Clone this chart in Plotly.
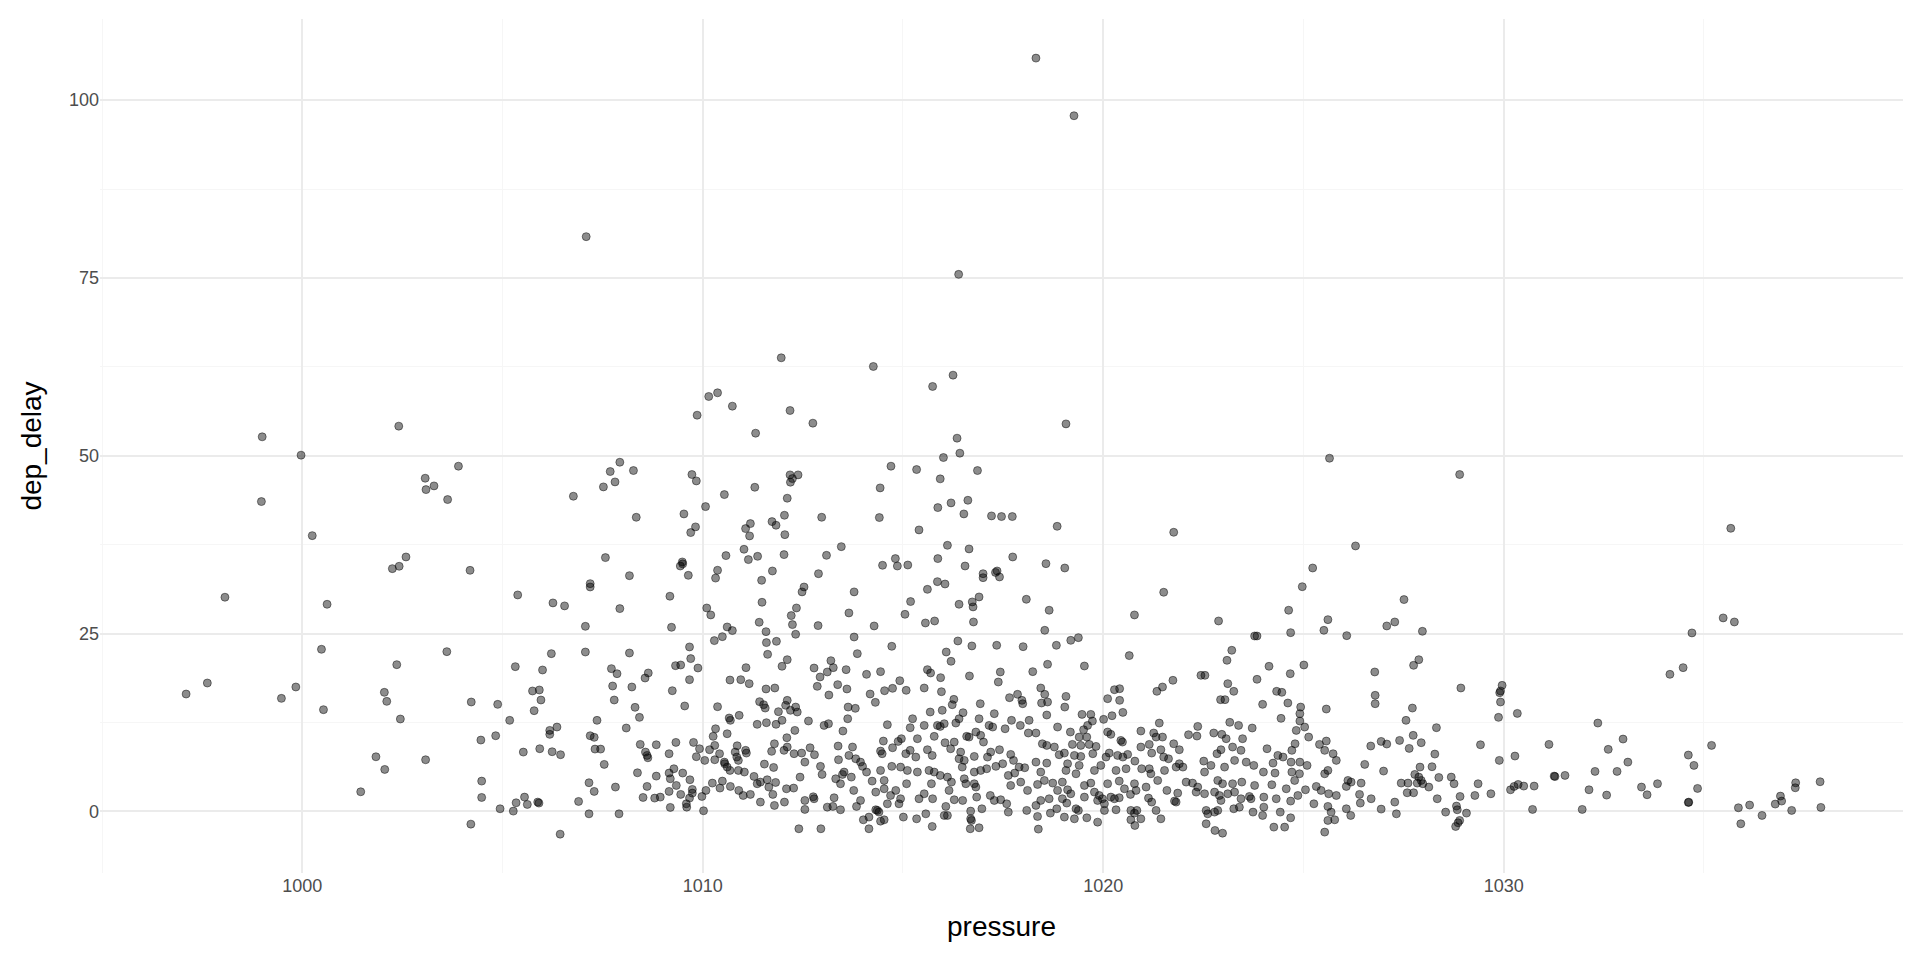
"""Scatter of departure delay against pressure (ggplot minimal look)."""

import plotly.graph_objects as go

# (pressure, dep_delay), grouped by region of the plot
outliers = [(1018.32, 105.9), (1019.27, 97.8), (1007.09, 80.8), (1016.39, 75.5)]

upper_west = [
    (999.00, 52.66), (999.97, 50.08), (1002.41, 54.16), (998.98, 43.56), (1000.25, 38.77),
    (1003.90, 48.53), (1003.07, 46.84), (1003.29, 45.76), (1003.09, 45.24), (1003.63, 43.84),
    (1006.77, 44.31), (1007.93, 49.09), (1007.69, 47.78), (1008.27, 47.92), (1007.52, 45.62),
    (1007.81, 46.32), (1008.34, 41.35), (1010.15, 58.33), (1010.37, 58.85), (1009.86, 55.70),
    (1009.73, 47.36), (1009.84, 46.46), (1010.07, 42.85), (1009.53, 41.82), (1009.82, 40.0),
    (1009.70, 39.2), (1002.59, 35.77), (1002.42, 34.46), (1002.25, 34.13), (1004.19, 33.89),
    (1007.57, 35.68), (1008.17, 33.14), (1007.19, 32.02), (1007.19, 31.55), (1009.49, 35.07),
    (1009.44, 34.50), (1009.5, 34.8), (1009.64, 33.19), (1010.37, 33.9), (1010.32, 32.8),
]

upper_mid = [
    (1011.96, 63.77), (1014.26, 62.55), (1016.25, 61.33), (1015.74, 59.74), (1010.74, 56.97),
    (1012.18, 56.36), (1012.75, 54.58), (1011.32, 53.17), (1019.07, 54.48), (1016.35, 52.47),
    (1016.42, 50.36), (1016.01, 49.75), (1014.70, 48.53), (1015.34, 48.06), (1016.86, 47.92),
    (1015.93, 46.75), (1012.18, 47.31), (1012.38, 47.31), (1012.24, 46.79), (1012.19, 46.28),
    (1011.30, 45.57), (1010.54, 44.54), (1012.11, 44.03), (1014.43, 45.48), (1014.41, 41.31),
    (1012.97, 41.35), (1012.04, 41.63), (1011.73, 40.74), (1011.83, 40.23), (1011.19, 40.46),
    (1011.07, 39.76), (1011.17, 38.73), (1012.05, 38.91), (1015.87, 42.71), (1016.20, 43.37),
    (1016.62, 43.74), (1016.52, 41.82), (1017.21, 41.54), (1017.46, 41.45), (1017.73, 41.45),
    (1018.85, 40.08), (1015.40, 39.57), (1021.76, 39.24), (1016.11, 37.41), (1016.65, 36.90),
    (1017.74, 35.77), (1015.87, 35.54), (1014.81, 35.54), (1014.49, 34.60), (1014.86, 34.50),
    (1015.12, 34.64), (1016.55, 34.50), (1013.46, 37.22), (1013.09, 36.00), (1012.03, 36.10),
    (1011.37, 35.86), (1011.03, 36.85), (1011.14, 35.40), (1010.58, 35.96), (1011.74, 33.80),
    (1011.47, 32.49), (1012.89, 33.42), (1012.53, 31.55), (1017.00, 33.42), (1017.00, 32.86),
    (1017.35, 33.80), (1017.41, 32.96), (1017.31, 33.6), (1018.57, 34.83), (1019.04, 34.22),
    (1015.86, 32.30), (1016.05, 31.97), (1015.61, 31.22), (1025.23, 34.22), (1024.97, 31.59),
    (1025.65, 49.65), (1028.90, 47.36), (1026.30, 37.32), (1035.67, 39.80),
]

low_997_1003 = [
    (998.07, 30.11), (1000.62, 29.12), (1000.48, 22.79), (1002.36, 20.63), (997.63, 18.05),
    (997.10, 16.50), (999.84, 17.49), (999.48, 15.89), (1000.53, 14.30), (1002.05, 16.74),
    (1002.11, 15.47), (1002.45, 12.99), (1001.84, 7.68), (1002.06, 5.90), (1001.46, 2.76),
]

low_1003_1008 = [
    (1005.38, 30.43), (1006.26, 29.31), (1006.55, 28.89), (1007.93, 28.51), (1007.07, 26.02),
    (1003.61, 22.46), (1006.22, 22.18), (1007.07, 22.41), (1005.32, 20.35), (1006.00, 19.88),
    (1007.72, 20.07), (1007.86, 19.36), (1007.75, 17.63), (1005.75, 16.93), (1005.92, 17.07),
    (1005.96, 15.66), (1005.79, 14.16), (1007.79, 15.66), (1004.22, 15.38), (1004.88, 15.05),
    (1005.18, 12.80), (1007.36, 12.80), (1006.18, 11.39), (1006.36, 11.86), (1006.18, 10.83),
    (1007.19, 10.64), (1007.29, 10.41), (1004.83, 10.64), (1004.46, 10.03), (1003.08, 7.26),
    (1005.52, 8.34), (1005.93, 8.81), (1006.24, 8.39), (1006.45, 7.97), (1007.31, 8.76),
    (1007.45, 8.76), (1007.54, 6.61), (1004.48, 4.26), (1004.48, 1.96), (1004.94, 0.37),
    (1005.27, 0.04), (1005.34, 1.21), (1005.55, 2.01), (1005.62, 0.98), (1005.88, 1.31),
    (1005.91, 1.17), (1006.90, 1.40), (1007.16, 4.03), (1007.29, 2.81), (1007.16, -0.34),
    (1007.82, 3.42), (1007.91, -0.34), (1004.21, -1.79), (1006.44, -3.20),
]

low_1008_1012 = [
    (1009.18, 30.25), (1009.22, 25.88), (1010.10, 28.60), (1010.20, 27.62), (1011.48, 29.40),
    (1011.41, 26.59), (1011.58, 25.27), (1010.61, 25.93), (1010.74, 25.42), (1010.49, 24.57),
    (1010.29, 24.01), (1011.59, 23.73), (1011.84, 23.91), (1011.62, 22.08), (1008.17, 22.27),
    (1009.67, 23.12), (1009.70, 21.48), (1009.32, 20.49), (1009.45, 20.58), (1009.88, 20.16),
    (1008.64, 19.46), (1008.56, 18.75), (1008.23, 17.49), (1009.67, 18.52), (1009.24, 16.97),
    (1011.08, 20.21), (1010.68, 18.47), (1010.95, 18.52), (1011.16, 17.96), (1011.58, 17.21),
    (1011.80, 17.35), (1009.55, 14.82), (1010.37, 14.72), (1008.31, 14.63), (1008.42, 13.22),
    (1008.09, 11.72), (1010.66, 13.13), (1010.69, 12.80), (1010.91, 13.50), (1011.42, 15.43),
    (1011.52, 15.00), (1011.56, 14.53), (1011.89, 14.02), (1011.36, 12.24), (1011.59, 12.47),
    (1011.83, 12.24), (1010.32, 11.62), (1010.26, 10.55), (1010.61, 10.92), (1008.44, 9.42),
    (1008.57, 8.34), (1008.61, 7.87), (1008.63, 7.54), (1008.84, 9.37), (1009.33, 9.70),
    (1009.16, 8.11), (1009.77, 9.70), (1009.92, 8.81), (1010.17, 8.67), (1010.30, 9.28),
    (1010.42, 8.11), (1009.84, 7.69), (1010.05, 7.17), (1010.30, 7.26), (1010.54, 6.93),
    (1010.86, 9.23), (1010.81, 8.34), (1010.85, 7.64), (1010.89, 7.17), (1011.07, 8.58),
    (1011.09, 8.20), (1011.79, 9.51), (1011.72, 8.44), (1011.54, 6.65), (1011.77, 6.18),
    (1008.37, 5.43), (1008.61, 3.51), (1008.84, 4.96), (1009.16, 5.39), (1009.19, 4.59),
    (1009.28, 6.00), (1009.50, 5.39), (1009.68, 4.45), (1009.34, 3.65), (1009.16, 2.81),
    (1008.51, 1.96), (1008.80, 1.87), (1008.94, 2.01), (1009.45, 2.39), (1009.74, 3.09),
    (1009.74, 2.57), (1009.67, 1.87), (1009.59, 1.07), (1009.60, 0.60), (1009.19, 0.56),
    (1010.02, 0.09), (1009.98, 2.10), (1010.08, 2.95), (1010.24, 3.98), (1010.49, 4.26),
    (1010.43, 3.28), (1010.69, 3.51), (1010.55, 6.70), (1010.61, 6.23), (1010.68, 5.76),
    (1010.89, 5.76), (1011.04, 5.53), (1010.90, 2.95), (1011.01, 2.24), (1011.19, 2.39),
    (1011.28, 4.92), (1011.36, 3.89), (1011.44, 4.12), (1011.61, 4.45), (1011.65, 3.42),
    (1011.82, 4.07), (1011.44, 1.31), (1011.75, 2.39), (1011.79, 0.84),
]

low_1012_1015 = [
    (1012.48, 30.86), (1013.78, 30.86), (1012.34, 28.60), (1012.21, 27.53), (1012.24, 26.26),
    (1012.32, 24.90), (1012.88, 26.12), (1013.65, 27.90), (1013.78, 24.52), (1013.86, 22.18),
    (1014.28, 26.07), (1014.72, 23.21), (1015.19, 29.50), (1015.05, 27.71), (1012.11, 21.33),
    (1011.98, 20.40), (1012.78, 20.16), (1013.20, 21.19), (1013.26, 20.21), (1013.11, 19.60),
    (1012.93, 18.90), (1012.86, 17.58), (1013.58, 19.93), (1013.37, 17.82), (1013.60, 17.21),
    (1013.15, 16.36), (1014.09, 19.27), (1014.44, 19.65), (1014.92, 18.38), (1014.74, 17.30),
    (1014.54, 16.97), (1015.08, 17.02), (1014.18, 16.50), (1014.31, 15.33), (1013.63, 14.67),
    (1013.81, 14.49), (1012.11, 15.61), (1012.07, 14.91), (1012.32, 14.67), (1012.36, 13.97),
    (1012.19, 14.21), (1011.98, 12.80), (1012.64, 12.71), (1013.03, 12.09), (1013.14, 12.33),
    (1013.50, 11.30), (1013.62, 13.03), (1012.30, 11.39), (1012.10, 10.36), (1012.03, 8.58),
    (1012.11, 9.05), (1012.28, 8.11), (1012.47, 8.20), (1012.55, 6.93), (1012.68, 8.95),
    (1012.79, 7.97), (1013.38, 9.19), (1013.39, 7.26), (1013.74, 9.05), (1013.65, 7.87),
    (1013.82, 7.40), (1013.94, 6.93), (1013.99, 6.33), (1014.09, 5.53), (1013.53, 5.53),
    (1013.49, 5.20), (1012.94, 6.33), (1012.98, 5.20), (1012.43, 4.82), (1012.09, 3.18),
    (1012.27, 3.28), (1012.04, 1.31), (1012.55, 1.54), (1012.55, 0.28), (1012.76, 2.06),
    (1012.78, 1.78), (1013.11, 0.60), (1013.25, 0.70), (1013.28, 1.92), (1013.44, 0.23),
    (1013.32, 4.59), (1013.44, 3.89), (1013.71, 4.82), (1013.77, 2.95), (1013.94, 1.54),
    (1013.84, 0.70), (1014.23, 4.26), (1014.32, 2.71), (1014.53, 4.35), (1014.53, 3.18),
    (1014.44, 5.76), (1014.48, 8.11), (1014.44, 8.48), (1014.51, 9.89), (1014.61, 12.19),
    (1014.74, 8.95), (1014.88, 9.84), (1014.96, 10.22), (1014.72, 6.33), (1014.94, 6.23),
    (1015.11, 5.76), (1015.07, 8.11), (1015.18, 8.58), (1015.24, 13.03), (1015.18, 11.77),
    (1015.36, 10.22), (1015.36, 5.53), (1015.32, 7.64), (1015.09, 3.89), (1014.82, 2.95),
    (1014.94, 1.78), (1014.90, 1.07), (1014.69, 2.24), (1014.61, 1.07), (1014.36, 0.14),
    (1014.40, -0.10), (1014.32, 0.23), (1014.53, -1.18), (1014.44, -1.37), (1014.15, -0.80),
    (1014.01, -1.18), (1014.15, -2.44), (1015.01, -0.80), (1015.34, -1.04), (1015.40, 1.78),
    (1012.40, -2.44), (1012.95, -2.44),
]

low_1015_1019 = [
    (1016.40, 29.12), (1016.73, 29.45), (1016.75, 28.75), (1016.90, 30.15), (1015.56, 26.49),
    (1015.79, 26.77), (1016.76, 26.63), (1018.08, 29.82), (1018.65, 28.28), (1018.54, 25.46),
    (1016.37, 23.96), (1016.72, 23.26), (1017.34, 23.35), (1018.00, 23.16), (1018.83, 23.35),
    (1016.08, 22.41), (1016.20, 21.10), (1015.61, 19.93), (1015.69, 19.46), (1015.94, 18.80),
    (1016.66, 19.04), (1017.43, 19.60), (1017.38, 18.19), (1018.24, 19.65), (1018.61, 20.68),
    (1015.53, 17.35), (1015.96, 16.83), (1016.27, 15.75), (1016.23, 15.00), (1015.98, 14.21),
    (1015.68, 13.97), (1016.93, 15.14), (1017.66, 15.99), (1017.86, 16.46), (1017.97, 15.61),
    (1017.99, 15.14), (1018.44, 17.35), (1018.54, 16.46), (1018.46, 15.24), (1018.61, 15.38),
    (1018.59, 13.55), (1016.50, 13.88), (1016.40, 13.03), (1016.32, 12.42), (1016.03, 12.33),
    (1015.86, 12.09), (1015.93, 11.95), (1015.53, 12.09), (1015.78, 10.55), (1016.90, 13.03),
    (1017.28, 13.74), (1017.15, 12.09), (1017.24, 11.86), (1017.55, 11.62), (1017.71, 12.80),
    (1017.93, 12.09), (1018.15, 12.80), (1018.13, 11.02), (1018.32, 11.02), (1016.59, 10.55),
    (1016.65, 10.45), (1016.82, 11.16), (1016.94, 10.69), (1017.01, 9.75), (1016.28, 9.75),
    (1016.05, 9.66), (1016.19, 8.81), (1015.61, 8.67), (1015.73, 7.87), (1016.44, 8.34),
    (1016.40, 7.40), (1016.53, 7.17), (1016.78, 7.73), (1017.11, 7.64), (1017.19, 8.34),
    (1017.41, 8.67), (1017.69, 8.01), (1017.76, 7.17), (1017.49, 6.70), (1017.32, 6.33),
    (1017.09, 6.00), (1016.94, 5.76), (1016.78, 5.53), (1016.48, 6.23), (1015.78, 5.53),
    (1015.65, 5.76), (1015.93, 5.06), (1016.11, 4.82), (1016.21, 4.12), (1016.53, 4.59),
    (1016.57, 3.89), (1016.78, 3.89), (1016.82, 3.42), (1016.15, 2.95), (1015.71, 3.89),
    (1015.53, 2.48), (1015.74, 1.78), (1016.28, 1.64), (1016.49, 1.54), (1016.84, 2.01),
    (1017.18, 2.24), (1017.28, 1.54), (1017.44, 1.64), (1017.59, 1.07), (1017.63, -0.10),
    (1016.97, 0.37), (1016.69, 0.04), (1016.69, -1.04), (1016.71, -1.27), (1016.68, -2.44),
    (1016.90, -2.30), (1016.07, 0.70), (1016.03, -0.57), (1016.11, -0.57), (1015.57, -0.34),
    (1015.73, -2.12), (1017.63, 5.06), (1017.79, 5.39), (1017.90, 6.23), (1018.04, 6.14),
    (1017.94, 4.12), (1017.69, 3.65), (1018.11, 2.95), (1018.36, 3.79), (1018.32, 6.93),
    (1018.44, 5.53), (1018.59, 6.79), (1018.53, 4.35), (1018.74, 3.98), (1018.59, 9.28),
    (1018.48, 9.51), (1018.78, 9.05), (1018.86, 11.86), (1018.90, 7.97), (1018.44, 1.54),
    (1018.32, 0.84), (1018.09, 0.14), (1018.36, -0.71), (1018.68, -0.24), (1018.65, 1.78),
    (1018.84, 0.37), (1018.38, -2.49), (1018.86, 2.95),
]

low_1019_1022 = [
    (1021.51, 30.81), (1020.78, 27.62), (1019.19, 24.05), (1019.38, 24.43), (1020.65, 21.90),
    (1019.53, 20.44), (1020.11, 15.85), (1020.28, 17.11), (1020.41, 17.25), (1020.41, 15.61),
    (1021.34, 16.88), (1021.48, 17.49), (1021.74, 18.43), (1022.44, 19.13), (1019.07, 16.17),
    (1019.04, 14.67), (1020.49, 13.92), (1020.22, 13.45), (1020.01, 12.94), (1019.47, 13.64),
    (1019.69, 13.64), (1019.73, 12.70), (1019.61, 12.09), (1019.51, 11.48), (1019.18, 11.16),
    (1019.40, 10.45), (1019.59, 10.45), (1020.11, 11.16), (1020.19, 10.83), (1020.44, 9.98),
    (1020.48, 9.75), (1020.94, 11.30), (1021.40, 12.42), (1021.26, 11.02), (1021.32, 10.45),
    (1021.48, 10.45), (1021.76, 9.51), (1021.90, 8.67), (1022.13, 10.78), (1022.36, 11.95),
    (1022.34, 10.59), (1019.23, 9.42), (1019.44, 9.28), (1019.65, 9.42), (1019.82, 9.14),
    (1019.74, 8.11), (1019.03, 8.20), (1019.28, 7.87), (1019.44, 7.73), (1019.11, 6.70),
    (1019.40, 6.47), (1019.07, 5.76), (1019.32, 5.29), (1019.78, 5.76), (1019.94, 6.47),
    (1020.15, 8.20), (1020.07, 7.64), (1020.36, 7.87), (1020.49, 7.64), (1020.61, 8.01),
    (1020.79, 7.07), (1020.32, 5.76), (1020.57, 6.00), (1020.94, 9.05), (1021.15, 9.42),
    (1021.21, 8.20), (1021.44, 8.67), (1021.51, 7.64), (1021.63, 7.40), (1020.96, 6.00),
    (1021.15, 6.00), (1021.19, 5.29), (1021.36, 4.35), (1021.53, 5.76), (1021.82, 6.23),
    (1021.90, 6.70), (1021.99, 6.23), (1022.07, 4.12), (1022.23, 3.98), (1022.36, 3.42),
    (1022.32, 2.71), (1018.98, 4.12), (1019.11, 3.04), (1019.19, 2.48), (1019.09, 1.17),
    (1018.98, 1.78), (1019.03, -0.80), (1019.28, -1.04), (1019.32, 0.37), (1019.38, 0.14),
    (1019.59, -0.90), (1019.86, -1.51), (1019.53, 2.01), (1019.53, 3.65), (1019.69, 3.98),
    (1019.78, 2.71), (1019.86, 1.54), (1019.90, 2.24), (1019.98, 1.78), (1020.03, 1.07),
    (1020.03, 0.14), (1020.19, 2.01), (1020.28, 1.78), (1020.40, 1.92), (1020.11, 3.89),
    (1020.40, 4.26), (1020.53, 3.18), (1020.32, 0.23), (1020.68, 2.39), (1020.78, 3.89),
    (1020.82, 2.95), (1020.69, 0.14), (1020.78, -0.24), (1020.84, 0.14), (1020.94, -1.04),
    (1020.79, -1.98), (1020.69, -1.18), (1021.07, 3.42), (1021.13, 1.87), (1021.21, 1.31),
    (1021.32, 0.14), (1021.44, -1.04), (1021.59, 2.95), (1021.78, 1.45), (1021.86, 2.57),
    (1021.82, 1.31),
]

low_1022_1026 = [
    (1024.63, 28.28), (1025.61, 26.96), (1025.51, 25.46), (1024.68, 25.13), (1022.88, 26.77),
    (1023.78, 24.66), (1023.84, 24.66), (1023.21, 22.65), (1023.09, 21.24), (1022.54, 19.13),
    (1024.14, 20.40), (1023.84, 18.57), (1024.67, 19.36), (1025.01, 20.58), (1023.11, 17.96),
    (1023.26, 16.88), (1022.93, 15.71), (1023.04, 15.71), (1024.33, 16.88), (1024.46, 16.74),
    (1023.98, 15.05), (1024.61, 15.24), (1024.93, 14.67), (1024.91, 13.74), (1024.44, 13.08),
    (1024.91, 12.70), (1025.57, 14.39), (1024.82, 11.39), (1025.03, 11.86), (1025.13, 10.45),
    (1023.16, 12.52), (1023.38, 12.09), (1023.72, 11.72), (1022.76, 11.02), (1022.96, 10.83),
    (1023.07, 10.22), (1023.48, 10.22), (1023.44, 8.58), (1023.23, 9.05), (1022.94, 8.67),
    (1022.84, 8.11), (1023.28, 7.17), (1023.57, 6.93), (1023.76, 6.47), (1023.03, 6.23),
    (1022.69, 6.47), (1022.51, 7.07), (1022.53, 5.53), (1024.09, 8.81), (1024.36, 7.87),
    (1024.49, 7.64), (1024.24, 6.79), (1024.00, 5.53), (1024.29, 5.39), (1024.71, 8.58),
    (1024.79, 9.51), (1024.69, 6.93), (1024.91, 6.93), (1025.09, 6.47), (1024.71, 5.53),
    (1024.90, 5.29), (1024.78, 4.35), (1025.40, 9.42), (1025.57, 9.89), (1025.53, 8.58),
    (1025.74, 8.11), (1025.82, 7.17), (1025.53, 5.29), (1025.61, 5.76), (1022.86, 4.35),
    (1022.98, 3.89), (1023.23, 3.89), (1023.46, 4.12), (1023.78, 3.65), (1024.21, 3.75),
    (1024.57, 3.18), (1025.05, 3.04), (1025.32, 3.51), (1025.44, 2.95), (1025.63, 2.48),
    (1025.82, 2.24), (1022.53, 2.48), (1022.78, 2.71), (1022.90, 2.24), (1022.94, 1.54),
    (1023.11, 2.48), (1023.28, 2.71), (1023.44, 1.78), (1023.65, 2.10), (1023.69, 1.78),
    (1024.01, 2.01), (1024.32, 1.78), (1024.68, 1.45), (1024.86, 2.24), (1025.26, 1.07),
    (1025.61, 0.70), (1022.57, 0.14), (1022.61, -0.34), (1022.78, -0.10), (1022.86, 0.14),
    (1023.26, 0.37), (1023.40, 0.60), (1024.01, 0.60), (1023.74, -0.10), (1023.98, -0.57),
    (1024.42, -0.10), (1024.68, -0.90), (1022.57, -1.74), (1022.79, -2.68), (1022.98, -3.06),
    (1024.26, -2.21), (1024.53, -2.21), (1025.69, -0.10), (1025.61, -1.27), (1025.53, -2.91),
    (1025.78, -1.18),
]

low_1026_1031 = [
    (1027.51, 29.78), (1027.08, 26.07), (1027.28, 26.63), (1027.97, 25.32), (1026.08, 24.71),
    (1027.88, 21.33), (1027.75, 20.54), (1026.78, 19.60), (1028.93, 17.35), (1026.79, 16.32),
    (1026.79, 15.14), (1027.72, 14.53), (1027.56, 12.80), (1029.96, 17.72), (1029.92, 16.93),
    (1029.90, 16.69), (1029.92, 15.38), (1029.87, 13.22), (1030.34, 13.78), (1028.32, 11.77),
    (1027.74, 10.69), (1027.40, 9.98), (1027.94, 9.66), (1027.64, 8.86), (1026.94, 9.84),
    (1027.08, 9.47), (1026.68, 9.19), (1028.28, 8.06), (1029.42, 9.37), (1030.28, 7.78),
    (1029.89, 7.17), (1026.53, 6.61), (1027.00, 5.67), (1027.91, 6.23), (1028.21, 6.28),
    (1027.78, 5.20), (1027.88, 4.82), (1027.94, 4.35), (1027.98, 3.89), (1028.13, 3.42),
    (1027.84, 3.98), (1027.61, 3.98), (1027.44, 3.98), (1027.59, 2.62), (1027.75, 2.62),
    (1028.38, 4.77), (1028.69, 4.82), (1028.76, 3.89), (1029.36, 3.89), (1029.28, 2.24),
    (1029.68, 2.48), (1028.91, 2.10), (1028.34, 1.78), (1026.11, 4.35), (1026.19, 4.12),
    (1026.44, 3.98), (1026.07, 3.51), (1026.40, 2.39), (1026.42, 1.17), (1026.69, 1.78),
    (1026.07, 0.37), (1026.18, -0.57), (1026.94, 0.32), (1027.28, 1.31), (1027.32, -0.34),
    (1028.55, -0.10), (1028.82, 0.75), (1028.84, 0.23), (1029.07, -0.24), (1028.90, -1.27),
    (1028.86, -1.60), (1028.80, -2.12), (1030.17, 3.04), (1030.26, 3.51), (1030.36, 3.79),
    (1030.50, 3.56), (1030.76, 3.56), (1030.72, 0.28),
]

low_east = [
    (1035.48, 27.20), (1035.76, 26.63), (1034.70, 25.09), (1034.48, 20.21), (1034.15, 19.27),
    (1032.35, 12.42), (1031.13, 9.42), (1032.98, 10.17), (1032.61, 8.72), (1035.19, 9.28),
    (1034.61, 7.92), (1034.75, 6.47), (1033.10, 6.93), (1032.83, 5.62), (1032.28, 5.62),
    (1031.26, 4.96), (1031.28, 4.90), (1031.53, 5.06), (1032.13, 3.04), (1032.57, 2.29),
    (1033.44, 3.42), (1033.58, 2.34), (1033.84, 3.89), (1034.84, 3.23), (1034.61, 1.26),
    (1034.62, 1.30), (1031.96, 0.28), (1035.86, 0.51), (1036.14, 0.89), (1035.92, -1.74),
    (1036.45, -0.57), (1036.78, 1.03), (1036.91, 2.15), (1036.94, 1.45), (1037.19, 0.14),
    (1037.29, 4.02), (1037.28, 3.32), (1037.90, 4.17), (1037.92, 0.56),
]

regions = [
    outliers, upper_west, upper_mid, low_997_1003, low_1003_1008, low_1008_1012,
    low_1012_1015, low_1015_1019, low_1019_1022, low_1022_1026, low_1026_1031, low_east,
]
pressure = [p for region in regions for p, _ in region]
dep_delay = [d for region in regions for _, d in region]

GRID_MAJOR = "#EBEBEB"
GRID_MINOR = "#F6F6F6"
TICK_TEXT = "#4D4D4D"
FONT = "Liberation Sans, Arial, sans-serif"

fig = go.Figure(
    go.Scatter(
        x=pressure,
        y=dep_delay,
        mode="markers",
        marker=dict(
            size=8,
            color="rgba(0,0,0,0.45)",
            line=dict(color="rgba(0,0,0,0.45)", width=1),
        ),
        hoverinfo="x+y",
    )
)

# the page body adds an 8px offset, so margins are shifted to compensate
fig.update_layout(
    width=1920,
    height=960,
    paper_bgcolor="white",
    plot_bgcolor="white",
    showlegend=False,
    margin=dict(l=92, r=25, t=11, b=95),
    font=dict(family=FONT, color="black"),
)
fig.update_xaxes(
    range=[994.95, 1039.97],
    tickvals=[1000, 1010, 1020, 1030],
    showgrid=True,
    gridcolor=GRID_MAJOR,
    gridwidth=2,
    minor=dict(dtick=5, tick0=995, showgrid=True, gridcolor=GRID_MINOR, gridwidth=1),
    zeroline=False,
    showline=False,
    ticks="",
    tickfont=dict(size=18, color=TICK_TEXT),
    title=dict(text="pressure", font=dict(size=28, color="black"), standoff=21),
)
fig.update_yaxes(
    range=[-8.66, 111.4],
    tickvals=[0, 25, 50, 75, 100],
    showgrid=True,
    gridcolor=GRID_MAJOR,
    gridwidth=2,
    minor=dict(dtick=12.5, tick0=0, showgrid=True, gridcolor=GRID_MINOR, gridwidth=1),
    zeroline=False,
    showline=False,
    ticks="",
    tickfont=dict(size=18, color=TICK_TEXT),
    title=dict(text="dep_delay", font=dict(size=28, color="black"), standoff=19),
)

fig.write_html("out.html")
